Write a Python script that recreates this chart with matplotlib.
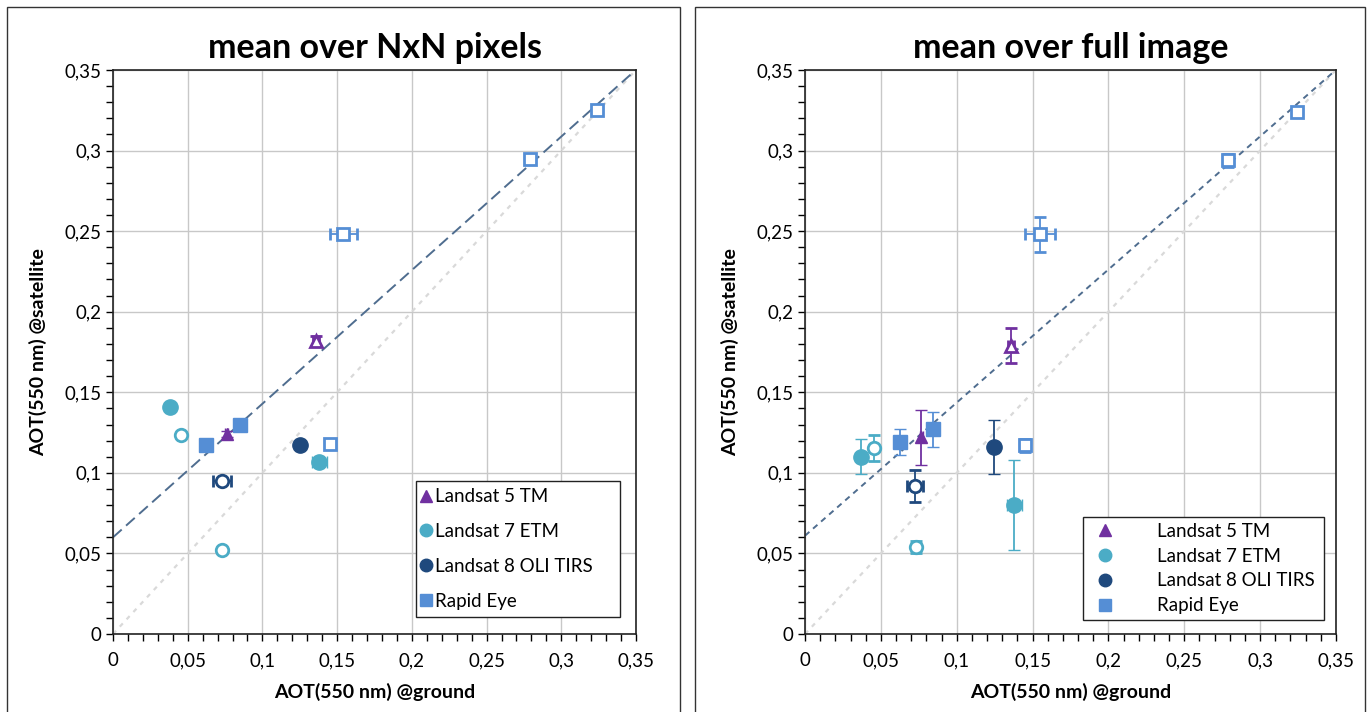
import matplotlib.pyplot as plt
import numpy as np
from matplotlib.lines import Line2D
from matplotlib.patches import Rectangle
from matplotlib.ticker import MultipleLocator, FuncFormatter

plt.rcParams['font.family'] = ['Lato', 'DejaVu Sans']

# sensors
names = ["Landsat 5 TM", "Landsat 7 ETM", "Landsat 8 OLI TIRS", "Rapid Eye"]
colors = ["#7030A0", "#4BACC6", "#1F497D", "#558ED5"]
markers = ["^", "o", "o", "s"]

# panel 1: mean over NxN pixels
nxn_x = [[0.076, 0.136],
         [0.038, 0.0455, 0.073, 0.138],
         [0.125, 0.073],
         [0.062, 0.085, 0.145, 0.154, 0.279, 0.324]]
nxn_y = [[0.124, 0.182],
         [0.141, 0.1235, 0.052, 0.107],
         [0.117, 0.095],
         [0.117, 0.130, 0.118, 0.248, 0.295, 0.325]]
nxn_xerr = [[0.001, 0.002],
            [0.0, 0.001, 0.001, 0.005],
            [0.0, 0.006],
            [0.0, 0.0, 0.002, 0.009, 0.002, 0.002]]
nxn_yerr = [[0.002, 0.003],
            [0.0, 0.001, 0.001, 0.002],
            [0.0, 0.001],
            [0.0, 0.0, 0.002, 0.002, 0.002, 0.002]]

# panel 2: mean over full image
full_x = [[0.0765, 0.136],
          [0.037, 0.0455, 0.073, 0.138],
          [0.1245, 0.0725],
          [0.0626, 0.0845, 0.145, 0.155, 0.279, 0.324]]
full_y = [[0.122, 0.179],
          [0.110, 0.1155, 0.054, 0.080],
          [0.116, 0.092],
          [0.119, 0.127, 0.117, 0.248, 0.294, 0.324]]
full_xerr = [[0.001, 0.002],
             [0.001, 0.001, 0.001, 0.005],
             [0.0, 0.005],
             [0.001, 0.001, 0.002, 0.010, 0.002, 0.002]]
full_yerr = [[0.017, 0.011],
             [0.011, 0.008, 0.004, 0.028],
             [0.017, 0.010],
             [0.008, 0.011, 0.004, 0.011, 0.004, 0.002]]

# filled = first acquisition type, open = second
filled = [[True, False],
          [True, False, False, True],
          [True, False],
          [True, True, False, False, False, False]]

# linear fits (intercept, slope)
nxn_fit = (0.060, 0.829)
full_fit = (0.061, 0.826)

fig = plt.figure(figsize=(13.7, 7.12), dpi=100)

# chart area frames
fig.patches.append(Rectangle((7/1370, -0.01), 673/1370, 1.0, transform=fig.transFigure,
                             fill=False, edgecolor='#333333', lw=1.0))
fig.patches.append(Rectangle((695/1370, -0.01), 670/1370, 1.0, transform=fig.transFigure,
                             fill=False, edgecolor='#333333', lw=1.0))

ax1 = fig.add_axes([113/1370, 78/712, 523/1370, 564/712])
ax2 = fig.add_axes([805/1370, 78/712, 531/1370, 564/712])


def fmt(v, pos):
    s = ("%.2f" % v).rstrip('0').rstrip('.')
    return s.replace('.', ',')


def draw(ax, title, xs, ys, xerrs, yerrs, fit, fitls, leg_opts):
    ax.set_xlim(0, 0.35)
    ax.set_ylim(0, 0.35)
    ax.xaxis.set_major_locator(MultipleLocator(0.05))
    ax.yaxis.set_major_locator(MultipleLocator(0.05))
    ax.xaxis.set_minor_locator(MultipleLocator(0.01))
    ax.yaxis.set_minor_locator(MultipleLocator(0.01))
    ax.xaxis.set_major_formatter(FuncFormatter(fmt))
    ax.yaxis.set_major_formatter(FuncFormatter(fmt))
    ax.tick_params(which='both', direction='out', length=5, width=1, labelsize=13.5, color='black')
    ax.tick_params(axis='x', pad=8)
    ax.grid(True, which='major', color='#C8C8C8', lw=1.0)
    ax.set_axisbelow(True)
    for s in ax.spines.values():
        s.set_color('#222222')
        s.set_linewidth(1.2)

    xx = np.array([0, 0.35])
    ax.plot(xx, xx, ls=(0, (2, 2.5)), color='#D9D9D9', lw=1.6, zorder=1)
    ax.plot(xx, fit[0] + fit[1] * xx, ls=fitls, color='#4F6D8F', lw=1.4, zorder=1)

    for i in range(4):
        for j in range(len(xs[i])):
            if filled[i][j]:
                ms = 11 if markers[i] == 'o' else (10 if markers[i] == 's' else 8)
                ax.errorbar(xs[i][j], ys[i][j], xerr=xerrs[i][j], yerr=yerrs[i][j],
                            fmt=markers[i], color=colors[i], ms=ms, mec=colors[i],
                            ecolor=colors[i], elinewidth=1.3, capsize=4, zorder=3)
            else:
                ax.errorbar(xs[i][j], ys[i][j], xerr=xerrs[i][j], yerr=yerrs[i][j],
                            fmt=markers[i], color=colors[i], ms=9, mfc='white', mec=colors[i],
                            mew=2, ecolor=colors[i], elinewidth=1.3, capsize=4, zorder=3)

    ax.set_title(title, fontsize=24.5, fontweight='bold', pad=9)
    ax.set_xlabel("AOT(550 nm) @ground", fontsize=14, fontweight='bold', labelpad=10)
    ax.set_ylabel("AOT(550 nm) @satellite", fontsize=14, fontweight='bold', labelpad=12)

    handles = [Line2D([], [], ls='none', marker=markers[i], color=colors[i],
                      ms=8 if markers[i] == '^' else 9) for i in range(4)]
    leg = ax.legend(handles, names, loc='lower left', mode='expand', fontsize=13.5,
                    frameon=True, fancybox=False, edgecolor='#222222',
                    borderaxespad=0, **leg_opts)
    leg.get_frame().set_linewidth(1.0)
    leg.get_frame().set_alpha(1)


draw(ax1, "mean over NxN pixels", nxn_x, nxn_y, nxn_xerr, nxn_yerr, nxn_fit,
     (0, (6, 3)),
     dict(bbox_to_anchor=(0.579, 0.030, 0.390, 0.25), handletextpad=0.3, handlelength=0.3,
          borderpad=0.4, labelspacing=0.95))
draw(ax2, "mean over full image", full_x, full_y, full_xerr, full_yerr, full_fit,
     (0, (3, 2.5)),
     dict(bbox_to_anchor=(0.5235, 0.025, 0.454, 0.2), handletextpad=1.85, handlelength=1.8,
          borderpad=0.3, labelspacing=0.42))

fig.savefig("out.png", dpi=100)
